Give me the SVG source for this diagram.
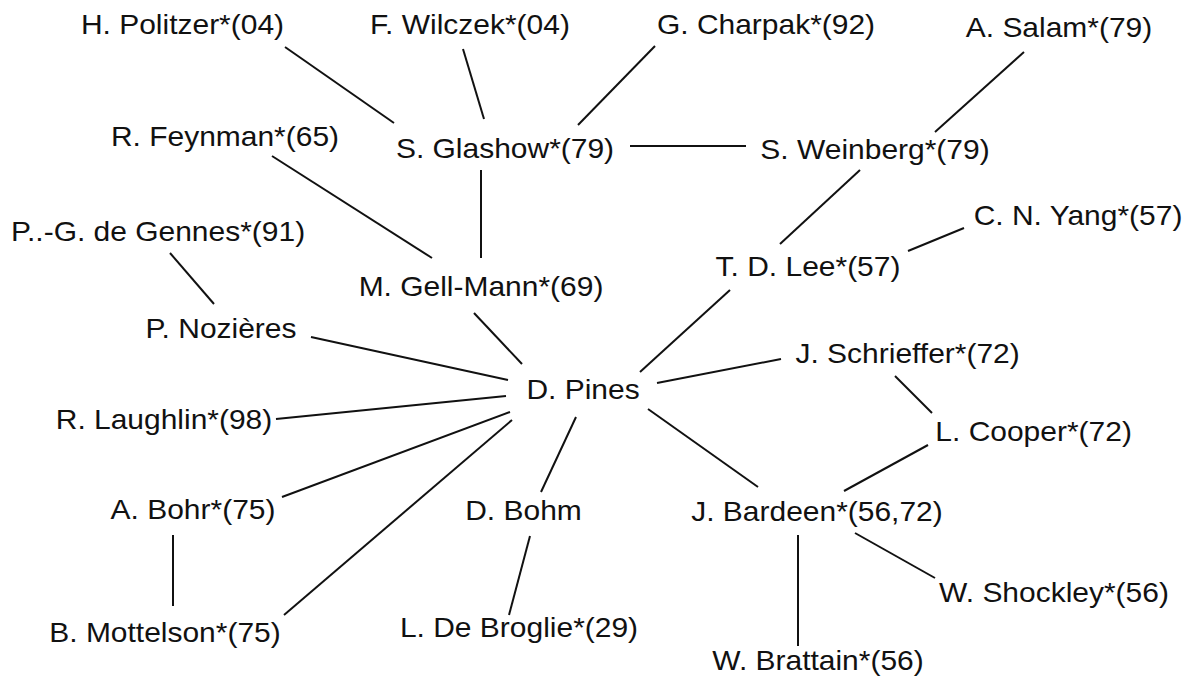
<svg xmlns="http://www.w3.org/2000/svg" width="1187" height="679" viewBox="0 0 1187 679">
<style>
.lbl{font-family:"Liberation Sans",Arial,sans-serif;font-size:27px;fill:#111;text-anchor:middle;transform:scaleX(1.11)}
.edges line{stroke:#111;stroke-width:2;stroke-linecap:butt}
</style>
<rect width="1187" height="679" fill="#fff"/>
<g class="edges" id="connectors">
<line x1="285" y1="47" x2="394" y2="123"/>
<line x1="463" y1="49" x2="484" y2="119"/>
<line x1="655" y1="46" x2="578" y2="125"/>
<line x1="630" y1="146" x2="746" y2="146"/>
<line x1="272" y1="156" x2="432" y2="258"/>
<line x1="481" y1="170" x2="481" y2="258"/>
<line x1="170" y1="253" x2="214" y2="304"/>
<line x1="474" y1="313" x2="522" y2="364"/>
<line x1="311" y1="337" x2="508" y2="380"/>
<line x1="276" y1="419" x2="506" y2="396"/>
<line x1="282" y1="497" x2="510" y2="412"/>
<line x1="284" y1="615" x2="512" y2="420"/>
<line x1="173" y1="535" x2="173" y2="606"/>
<line x1="576" y1="417" x2="541" y2="492"/>
<line x1="530" y1="536" x2="509" y2="615"/>
<line x1="1024" y1="52" x2="935" y2="132"/>
<line x1="860" y1="170" x2="780" y2="244"/>
<line x1="908" y1="251" x2="964" y2="228"/>
<line x1="730" y1="290" x2="640" y2="372"/>
<line x1="657" y1="383" x2="781" y2="359"/>
<line x1="895" y1="376" x2="932" y2="413"/>
<line x1="648" y1="409" x2="758" y2="487"/>
<line x1="928" y1="445" x2="844" y2="491"/>
<line x1="855" y1="533" x2="935" y2="578"/>
<line x1="798" y1="535" x2="798" y2="646"/>
</g>
<g id="politzer" transform="translate(182.5,34)"><text class="lbl">H. Politzer*(04)</text></g>
<g id="wilczek" transform="translate(470,34)"><text class="lbl">F. Wilczek*(04)</text></g>
<g id="charpak" transform="translate(766,34)"><text class="lbl">G. Charpak*(92)</text></g>
<g id="salam" transform="translate(1059,37)"><text class="lbl">A. Salam*(79)</text></g>
<g id="feynman" transform="translate(225,146)"><text class="lbl">R. Feynman*(65)</text></g>
<g id="glashow" transform="translate(505,158)"><text class="lbl">S. Glashow*(79)</text></g>
<g id="weinberg" transform="translate(875,159)"><text class="lbl">S. Weinberg*(79)</text></g>
<g id="yang" transform="translate(1078,225)"><text class="lbl">C. N. Yang*(57)</text></g>
<g id="degennes" transform="translate(158,241)"><text class="lbl">P..-G. de Gennes*(91)</text></g>
<g id="gellmann" transform="translate(481,296)"><text class="lbl">M. Gell-Mann*(69)</text></g>
<g id="lee" transform="translate(808,276)"><text class="lbl">T. D. Lee*(57)</text></g>
<g id="nozieres" transform="translate(221,338)"><text class="lbl">P. Nozières</text></g>
<g id="schrieffer" transform="translate(907.6,363)"><text class="lbl">J. Schrieffer*(72)</text></g>
<g id="pines" transform="translate(583,399)"><text class="lbl">D. Pines</text></g>
<g id="laughlin" transform="translate(164,429)"><text class="lbl">R. Laughlin*(98)</text></g>
<g id="cooper" transform="translate(1033.6,441)"><text class="lbl">L. Cooper*(72)</text></g>
<g id="bohr" transform="translate(193,519)"><text class="lbl">A. Bohr*(75)</text></g>
<g id="bohm" transform="translate(523.5,520)"><text class="lbl">D. Bohm</text></g>
<g id="bardeen" transform="translate(817,520.5)"><text class="lbl">J. Bardeen*(56,72)</text></g>
<g id="shockley" transform="translate(1054,601.5)"><text class="lbl">W. Shockley*(56)</text></g>
<g id="mottelson" transform="translate(165,641.5)"><text class="lbl">B. Mottelson*(75)</text></g>
<g id="debroglie" transform="translate(519,636.5)"><text class="lbl">L. De Broglie*(29)</text></g>
<g id="brattain" transform="translate(818,670)"><text class="lbl">W. Brattain*(56)</text></g>
</svg>
